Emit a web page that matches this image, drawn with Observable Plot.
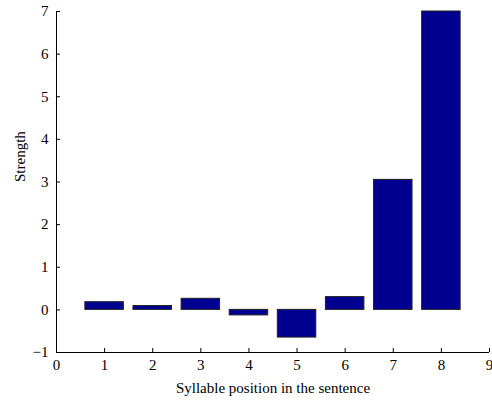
<!DOCTYPE html>
<html>
<head>
<meta charset="utf-8">
<script src="https://cdn.jsdelivr.net/npm/d3@7"></script>
<script src="https://cdn.jsdelivr.net/npm/@observablehq/plot@0.6"></script>
<style>
  body { margin: 0; background: #fff; }
</style>
</head>
<body>
<div id="chart"></div>
<script>
const positions = [1, 2, 3, 4, 5, 6, 7, 8];
const strengths = [0.18, 0.09, 0.26, -0.13, -0.65, 0.30, 3.05, 7.0];
const xTicks = [0, 1, 2, 3, 4, 5, 6, 7, 8, 9];
const yTicks = [-1, 0, 1, 2, 3, 4, 5, 6, 7];
const xLabel = "Syllable position in the sentence";
const yLabel = "Strength";

const FONT = "Liberation Serif, Times New Roman, serif";
const bars = positions.map((p, i) => ({x1: p - 0.4, x2: p + 0.4, v: strengths[i]}));

const chart = Plot.plot({
  width: 492,
  height: 404,
  marginLeft: 56,
  marginRight: 3,
  marginTop: 11,
  marginBottom: 52,
  style: {fontFamily: FONT, fontSize: "15px", background: "#fff"},
  x: {domain: [0, 9]},
  y: {domain: [-1, 7]},
  marks: [
    Plot.rectY(bars, {x1: "x1", x2: "x2", y1: 0, y2: "v", fill: "#000090", stroke: "#222", strokeWidth: 1}),
    Plot.ruleX([0], {stroke: "#000", strokeWidth: 1}),
    Plot.ruleY([-1], {stroke: "#000", strokeWidth: 1}),
    Plot.axisY(yTicks, {tickSize: -4, tickPadding: 12, label: null, fontSize: 15, fontFamily: FONT, color: "#000", tickFormat: d => d < 0 ? "\u2212" + Math.abs(d) : String(d)}),
    Plot.axisX(xTicks, {tickSize: -4, tickPadding: 11, label: null, fontSize: 15, fontFamily: FONT, color: "#000"}),
    Plot.text([yLabel], {frameAnchor: "left", dx: -36, rotate: -90, fontSize: 15, fontFamily: FONT, fill: "#000"}),
    Plot.text([xLabel], {frameAnchor: "bottom", dy: 40, fontSize: 15, fontFamily: FONT, fill: "#000"})
  ]
});
document.getElementById("chart").appendChild(chart);
</script>
</body>
</html>
